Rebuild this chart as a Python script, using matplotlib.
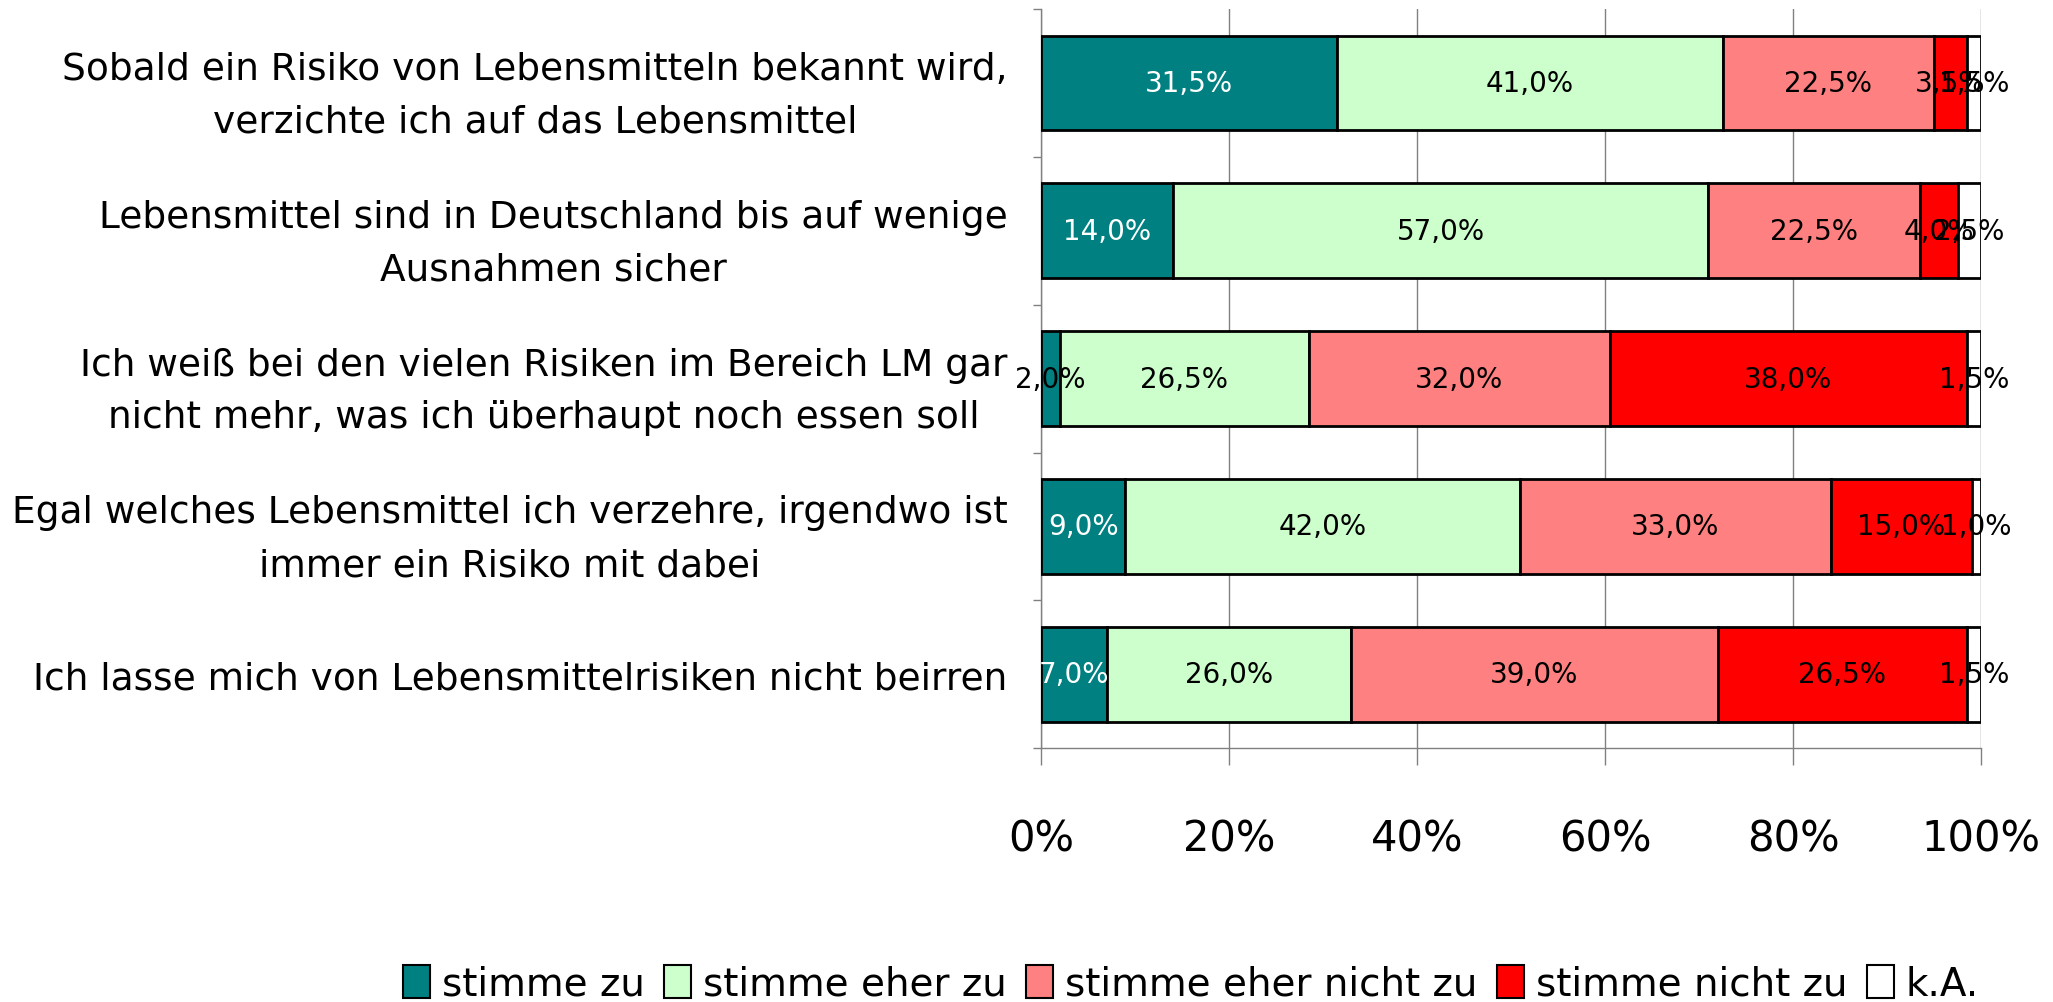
import matplotlib.pyplot as plt
import numpy as np
from matplotlib.patches import Patch
from matplotlib.ticker import FixedLocator, PercentFormatter

plt.rcParams["font.family"] = ["DejaVu Sans"]

aussagen = [
    "Sobald ein Risiko von Lebensmitteln bekannt wird,\nverzichte ich auf das Lebensmittel",
    "Lebensmittel sind in Deutschland bis auf wenige\nAusnahmen sicher",
    "Ich weiß bei den vielen Risiken im Bereich LM gar\nnicht mehr, was ich überhaupt noch essen soll",
    "Egal welches Lebensmittel ich verzehre, irgendwo ist\nimmer ein Risiko mit dabei",
    "Ich lasse mich von Lebensmittelrisiken nicht beirren",
]
antworten = ["stimme zu", "stimme eher zu", "stimme eher nicht zu", "stimme nicht zu", "k.A."]
stimme_zu = [31.5, 14.0, 2.0, 9.0, 7.0]
eher_zu = [41.0, 57.0, 26.5, 42.0, 26.0]
eher_nicht_zu = [22.5, 22.5, 32.0, 33.0, 39.0]
nicht_zu = [3.5, 4.0, 38.0, 15.0, 26.5]
keine_angabe = [1.5, 2.5, 1.5, 1.0, 1.5]

farben = ["#008080", "#CCFFCC", "#FF8080", "#FF0000", "#FFFFFF"]
reihen = [stimme_zu, eher_zu, eher_nicht_zu, nicht_zu, keine_angabe]

fig = plt.figure(figsize=(20.53, 10.03), dpi=100)
ax = fig.add_axes([0.507, 0.253, 0.458, 0.737])

y = np.arange(len(aussagen))
links = np.zeros(len(aussagen))
for werte, farbe in zip(reihen, farben):
    werte = np.array(werte)
    ax.barh(y, werte, left=links, height=0.64, color=farbe,
            edgecolor="black", linewidth=2, zorder=3)
    for yi, l, w in zip(y, links, werte):
        # Beschriftung im dunklen Segment weiss, ausser bei sehr schmalen Balken
        textfarbe = "white" if (farbe == "#008080" and w >= 5) else "black"
        ax.text(l + w / 2, yi, f"{w:.1f}%".replace(".", ","), ha="center",
                va="center", fontsize=20, color=textfarbe, zorder=4)
    links += werte

ax.set_xlim(0, 100)
ax.set_ylim(len(aussagen) - 0.5, -0.5)
ax.xaxis.set_major_locator(FixedLocator([0, 20, 40, 60, 80, 100]))
ax.xaxis.set_major_formatter(PercentFormatter(decimals=0))
ax.grid(axis="x", color="#808080", linewidth=1, zorder=0)

ax.set_yticks(y)
ax.set_yticklabels(aussagen, fontsize=27, multialignment="center", linespacing=1.6)
ax.set_yticks(np.arange(-0.5, len(aussagen)), minor=True)
ax.tick_params(axis="y", which="major", length=0, pad=24)
ax.tick_params(axis="y", which="minor", length=6, color="#808080", width=1)
ax.tick_params(axis="x", labelsize=30, length=12, color="#808080", width=1, pad=38)

for s in ["top", "right"]:
    ax.spines[s].set_visible(False)
for s in ["left", "bottom"]:
    ax.spines[s].set_color("#808080")
    ax.spines[s].set_linewidth(1)

handles = [Patch(facecolor=f, edgecolor="black", linewidth=1.5) for f in farben]
fig.legend(handles, antworten, loc="center", bbox_to_anchor=(0.58, 0.018),
           ncol=5, frameon=False, fontsize=28, handlelength=0.7,
           handleheight=0.9, handletextpad=0.3, columnspacing=0.5)

fig.savefig("out.png", dpi=100)
plt.close(fig)
